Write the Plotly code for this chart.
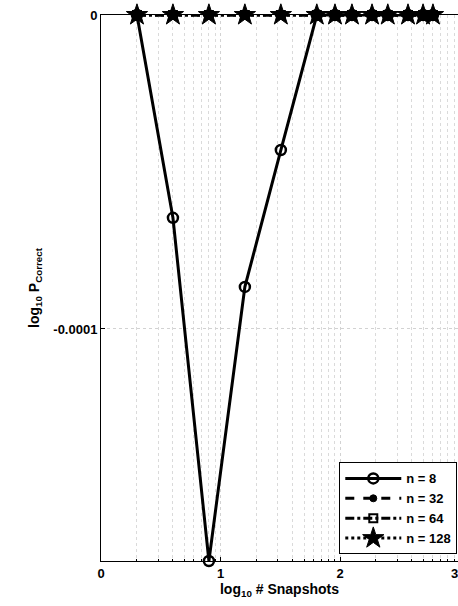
import numpy as np
import plotly.graph_objects as go

# log10 of the number of snapshots
log_snapshots = [0.301, 0.602, 0.903, 1.204, 1.505, 1.806, 1.958, 2.100,
                 2.268, 2.400, 2.569, 2.695, 2.778]

# log10 of the probability of a correct decision, per array size n
p_n8 = [0, -0.646e-4, -1.739e-4, -0.866e-4, -0.430e-4, 0, 0, 0, 0, 0, 0, 0, 0]
p_n32 = [0] * 13
p_n64 = [0] * 13
p_n128 = [0] * 13

series_names = ["n = 8", "n = 32", "n = 64", "n = 128"]
x_ticks = [0, 1, 2]
x_tick_text = ["0", "1", "2"]
y_ticks = [0, -1e-4]
y_tick_text = ["0", "-0.0001"]

FONT = "Liberation Sans"
W, H = 458, 606
ML, MR, MT, MB = 101, 0, 15, 45
px_per_decade = 119.5
x_max = (W - ML - MR) / px_per_decade

# logarithmic minor grid inside each decade
minor_vals = [np.log10(k) + d for d in range(3) for k in range(2, 10)]
minor_vals = [v for v in minor_vals if v < x_max]

fig = go.Figure()
styles = [
    dict(dash="solid", symbol="circle-open", size=10, lw=2.5),
    dict(dash="dash", symbol="circle", size=7, lw=1),
    dict(dash="dashdot", symbol="square-open", size=8, lw=2),
    dict(dash="dot", symbol="star", size=16, lw=1),
]
for name, ys, st in zip(series_names, [p_n8, p_n32, p_n64, p_n128], styles):
    fig.add_trace(go.Scatter(
        x=log_snapshots, y=ys, name=name, mode="lines+markers",
        line=dict(color="black", width=3, dash=st["dash"]),
        marker=dict(symbol=st["symbol"], size=st["size"], color="black",
                    line=dict(color="black", width=st["lw"])),
        cliponaxis=False,
    ))

fig.update_layout(
    width=W, height=H,
    margin=dict(l=ML, r=MR, t=MT, b=MB),
    paper_bgcolor="white", plot_bgcolor="white",
    font=dict(family=FONT, size=12, color="black", weight="bold"),
    showlegend=True,
    legend=dict(
        x=0.998, xanchor="right", y=0.012, yanchor="bottom",
        bgcolor="white", bordercolor="black", borderwidth=1,
        font=dict(family=FONT, size=13, color="black", weight="bold"),
        itemwidth=56, tracegroupgap=0,
    ),
)

fig.update_xaxes(
    range=[0, x_max],
    tickmode="array", tickvals=x_ticks, ticktext=x_tick_text,
    ticks="inside", ticklen=4, tickcolor="black",
    showline=True, linecolor="black", linewidth=1, mirror=True,
    showgrid=True, gridcolor="#d2d2d2", griddash="dot", gridwidth=1,
    zeroline=False,
    minor=dict(tickmode="array", tickvals=minor_vals, ticks="inside",
               ticklen=2, tickcolor="black", showgrid=True,
               gridcolor="#dadada", griddash="dot", gridwidth=1),
    tickfont=dict(family=FONT, size=13, weight="bold"),
    title=dict(text="log<sub>10</sub> # Snapshots", standoff=4,
               font=dict(family=FONT, size=14, weight="bold")),
)

fig.update_yaxes(
    range=[-1.739e-4, 0],
    tickmode="array", tickvals=y_ticks, ticktext=y_tick_text,
    ticks="inside", ticklen=4, tickcolor="black",
    showline=True, linecolor="black", linewidth=1,
    showgrid=True, gridcolor="#d2d2d2", griddash="dot", gridwidth=1,
    zeroline=False,
    tickfont=dict(family=FONT, size=13, weight="bold"),
    title=dict(text="log<sub>10</sub> P<sub>Correct</sub>", standoff=10,
               font=dict(family=FONT, size=14, weight="bold")),
)

# last decade label sits just past the right edge of the axes
fig.add_annotation(
    x=3 / x_max, xref="paper", y=0, yref="paper", yanchor="top",
    text="3", showarrow=False, yshift=-3,
    font=dict(family=FONT, size=13, color="black", weight="bold"),
)

fig.write_html("out.html")
